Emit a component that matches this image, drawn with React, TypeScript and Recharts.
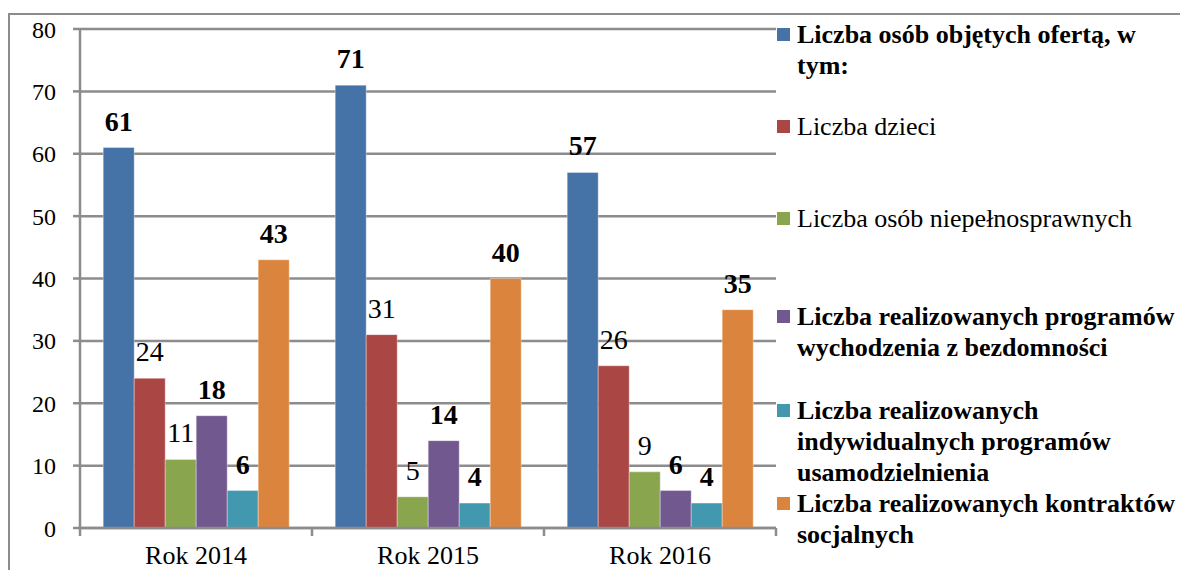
import React from "react";
import { BarChart, Bar, XAxis, YAxis, CartesianGrid, LabelList } from "recharts";

const years = ["Rok 2014", "Rok 2015", "Rok 2016"];
const objeci = [61, 71, 57];
const dzieci = [24, 31, 26];
const niepelnosprawni = [11, 5, 9];
const bezdomnosc = [18, 14, 6];
const usamodzielnienie = [6, 4, 4];
const kontrakty = [43, 40, 35];
const yTicks = [0, 10, 20, 30, 40, 50, 60, 70, 80];

const series = [
  { key: "objeci", values: objeci, color: "#4572A7", bold: true, lines: ["Liczba osób objętych ofertą, w", "tym:"] },
  { key: "dzieci", values: dzieci, color: "#AA4643", bold: false, lines: ["Liczba dzieci"] },
  { key: "niep", values: niepelnosprawni, color: "#89A54E", bold: false, lines: ["Liczba osób niepełnosprawnych"] },
  { key: "bezd", values: bezdomnosc, color: "#71588F", bold: true, lines: ["Liczba realizowanych programów", "wychodzenia z bezdomności"] },
  { key: "usam", values: usamodzielnienie, color: "#4198AF", bold: true, lines: ["Liczba realizowanych", "indywidualnych programów", "usamodzielnienia"] },
  { key: "kontr", values: kontrakty, color: "#DB843D", bold: true, lines: ["Liczba realizowanych kontraktów", "socjalnych"] },
];

const data = years.map((name, i) => {
  const row: any = { name };
  series.forEach((s) => (row[s.key] = s.values[i]));
  return row;
});

const FONT = "'Times New Roman', Times, 'Liberation Serif', serif";
const GRAY = "#8c8c8c";
const CHART_W = 1178;
const CHART_H = 562;
const MARGIN = { top: 21, right: 410, bottom: 0, left: 0 };
const Y_W = 72;
const PLOT_W = CHART_W - MARGIN.right - MARGIN.left - Y_W;
const HALF_BAND = PLOT_W / years.length / 2;
// legend line-1 top offsets (page layout)
const legendTops = [12, 104, 196, 294, 388, 481];

function XTick(props: any) {
  const { x, y, payload, index } = props;
  return (
    <g>
      <line x1={x - HALF_BAND} x2={x - HALF_BAND} y1={y} y2={y + 8} stroke={GRAY} strokeWidth={2.5} />
      {index === years.length - 1 && (
        <line x1={x + HALF_BAND} x2={x + HALF_BAND} y1={y} y2={y + 8} stroke={GRAY} strokeWidth={2.5} />
      )}
      <text x={x} y={y + 36} textAnchor="middle" style={{ fontFamily: FONT }} fontSize={26} fill="#000">
        {payload.value}
      </text>
    </g>
  );
}

export default function App() {
  return (
    <div style={{ position: "relative", width: 1180, height: 562, fontFamily: FONT }}>
      <style>{"html,body{overflow:hidden} .recharts-text{font-family:'Times New Roman', Times, 'Liberation Serif', serif}"}</style>
      <div
        style={{
          position: "absolute", left: 0, top: 5, width: CHART_W, height: 570, boxSizing: "border-box",
          border: `2px solid ${GRAY}`, borderBottom: "none",
        }}
      />
      <div style={{ position: "absolute", left: 0, top: 0 }}>
        <BarChart width={CHART_W} height={CHART_H} data={data} margin={MARGIN} barCategoryGap="10%" barGap={0}>
          <CartesianGrid vertical={false} stroke={GRAY} strokeWidth={2.5} />
          <XAxis
            dataKey="name"
            height={42}
            tickLine={false}
            tickSize={0}
            tickMargin={0}
            axisLine={{ stroke: GRAY, strokeWidth: 2.5 }}
            tick={<XTick />}
            interval={0}
          />
          <YAxis
            width={Y_W}
            domain={[0, 80]}
            ticks={yTicks}
            tickSize={7}
            tickMargin={17}
            axisLine={{ stroke: GRAY, strokeWidth: 2.5 }}
            tickLine={{ stroke: GRAY, strokeWidth: 2.5 }}
            tick={{ fontSize: 24, fill: "#000" }}
            interval={0}
          />
          {series.map((s) => (
            <Bar key={s.key} dataKey={s.key} fill={s.color} stroke="rgba(255,255,255,0.35)" strokeWidth={1} isAnimationActive={false}>
              <LabelList
                dataKey={s.key}
                position="top"
                offset={17}
                fontSize={28}
                fontWeight={s.bold ? 700 : 400}
                fill="#000"
              />
            </Bar>
          ))}
        </BarChart>
      </div>
      {series.map((s, i) => (
        <div key={s.key} style={{ position: "absolute", left: 769, top: legendTops[i] }}>
          <div style={{ position: "absolute", left: 0, top: 8, width: 13, height: 13, background: s.color }} />
          {s.lines.map((ln, j) => (
            <div
              key={j}
              style={{
                position: "absolute", left: 20, top: j * 31, whiteSpace: "nowrap", lineHeight: "30px",
                fontSize: 26, fontWeight: s.bold ? 700 : 400, color: "#000",
              }}
            >
              {ln}
            </div>
          ))}
        </div>
      ))}
    </div>
  );
}
